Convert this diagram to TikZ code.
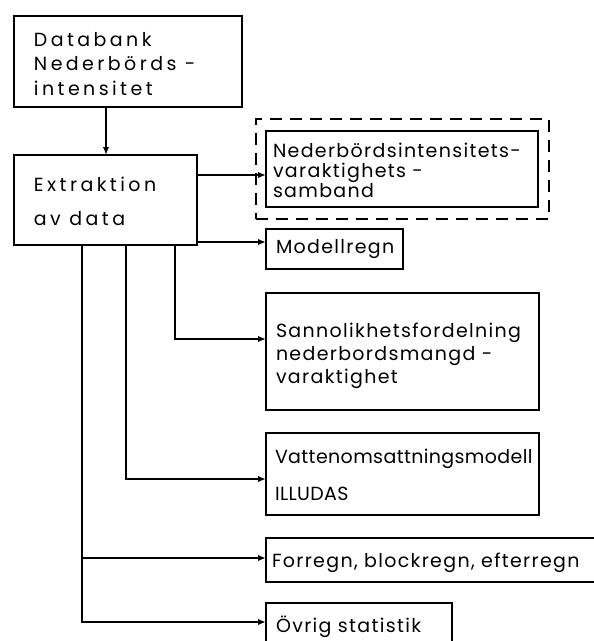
\documentclass[tikz,border=0pt]{standalone}
\usepackage{fontspec}
\setmainfont{Poppins}[LetterSpace=7]
\newfontfamily\widefam{Poppins}[LetterSpace=18]
\newfontfamily\tightfam{Poppins}[LetterSpace=2]
\usetikzlibrary{arrows.meta}
% #1 inner height, #2 inner width, #3 first baseline from top, #4 text
\newcommand\bxt[4]{\parbox[c][#1][t]{#2}{\lineskiplimit=-20pt\raggedright\rule{0pt}{#3}#4}}
\begin{document}
\begin{tikzpicture}[x=1pt,y=-1pt,
  box/.style={draw, line width=2.2pt, anchor=north west, inner ysep=0pt, outer sep=0pt},
  dashbox/.style={draw, line width=2.2pt, anchor=north west, inner sep=0pt, dash pattern=on 12pt off 8pt},
  conn/.style={line width=1.8pt, -{Latex[length=8pt,width=6.5pt]}},
  txt/.style={font=\fontsize{19}{#1}\selectfont}
]
\useasboundingbox (0,0) rectangle (594,641);

\node[box, minimum width=228pt, minimum height=91pt, inner xsep=20pt, txt=24.5] at (14,16) (db)
  {\widefam\bxt{91pt}{188pt}{30pt}{Databank\\Nederbörds -\\intensitet}};
\node[box, minimum width=183pt, minimum height=90pt, inner xsep=20pt, txt=34] at (14,155) (ex)
  {\widefam\bxt{90pt}{143pt}{36pt}{Extraktion\\av data}};

\node[dashbox, minimum width=293pt, minimum height=100pt] at (255,118) (outer) {};
\node[box, minimum width=272pt, minimum height=76pt, inner xsep=7pt, txt=20] at (266,131) (ivs)
  {\bxt{76pt}{258pt}{26pt}{Nederbördsintensitets-\\varaktighets -\\samband}};
\node[box, minimum width=137pt, minimum height=40pt, inner xsep=10pt, txt=20] at (266,229) (mod)
  {\bxt{40pt}{117pt}{24pt}{Modellregn}};
\node[box, minimum width=273pt, minimum height=117pt, inner xsep=10pt, txt=23] at (266,293) (sann)
  {\bxt{117pt}{253pt}{44pt}{Sannolikhetsfordelning\\nederbordsmangd -\\varaktighet}};
\node[box, minimum width=273pt, minimum height=82pt, inner xsep=9pt, txt=37] at (266,433) (vat)
  {\tightfam\bxt{82pt}{255pt}{30pt}{Vattenomsattningsmodell\\ILLUDAS}};
\node[box, minimum width=340pt, minimum height=44pt, inner xsep=6pt, txt=20] at (266,538) (for)
  {\bxt{44pt}{328pt}{29pt}{Forregn, blockregn, efterregn}};
\node[box, minimum width=186pt, minimum height=50pt, inner xsep=10pt, txt=20] at (266,603) (ov)
  {\bxt{50pt}{166pt}{29pt}{Övrig statistik}};

% connectors
\coordinate (d1) at ([xshift=92pt]db.south west);
\coordinate (d2) at ([xshift=92pt]ex.north west);
\draw[conn] (d1) -- (d2);

\coordinate (e1) at ([yshift=-20pt]ex.north east);
\draw[conn] (e1) -- (e1 -| ivs.west);
\coordinate (e2) at ([yshift=3pt]ex.south east);
\draw[conn] (e2) -- (e2 -| mod.west);

\coordinate (b3) at ([xshift=161pt]ex.south west);
\coordinate (b2) at ([xshift=112pt]ex.south west);
\coordinate (b1) at ([xshift=68pt]ex.south west);
\coordinate (s3) at ([yshift=-46pt]sann.north west);
\coordinate (v2) at ([yshift=-46pt]vat.north west);
\coordinate (f1) at ([yshift=-20pt]for.north west);
\coordinate (o1) at ([yshift=-19pt]ov.north west);
\draw[conn] (b3) |- (s3);
\draw[conn] (b2) |- (v2);
\draw[conn] (b1) |- (f1);
\draw[conn] (b1) |- (o1);
\end{tikzpicture}
\end{document}
